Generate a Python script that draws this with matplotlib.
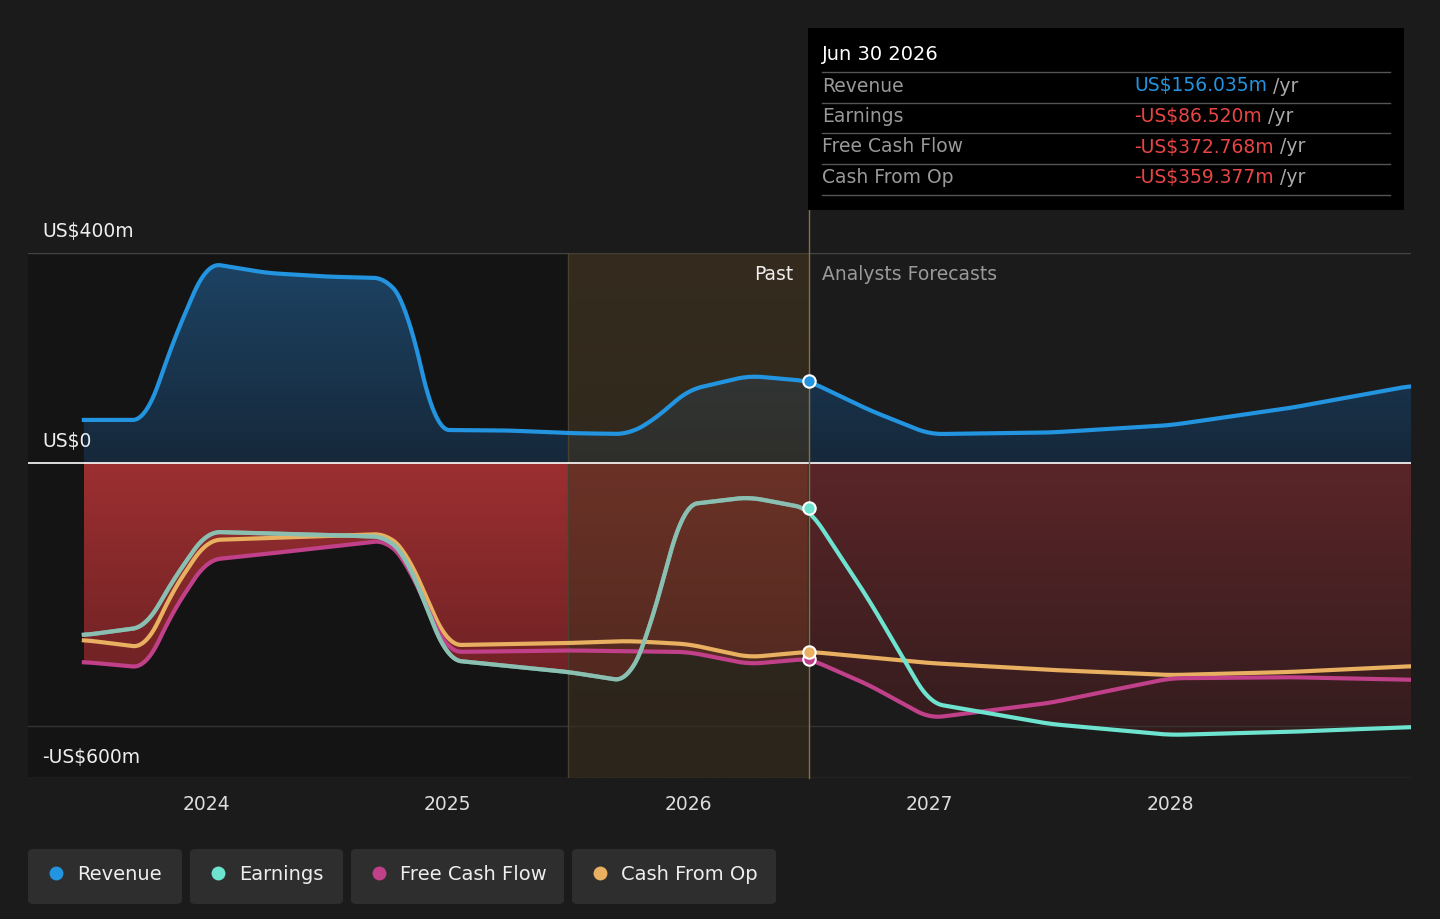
import numpy as np
import matplotlib.pyplot as plt
from matplotlib.patches import FancyBboxPatch, Rectangle
from matplotlib.colors import LinearSegmentedColormap

plt.rcParams['font.family'] = ['DejaVu Sans']

# data (US$ m)
rev_t = [2023.49, 2023.75, 2023.85, 2024.0, 2024.25, 2024.5, 2024.75, 2024.83, 2024.95, 2025.25, 2025.5, 2025.75, 2025.85, 2026.0, 2026.25, 2026.5, 2026.75, 2027.0, 2027.5, 2028.0, 2028.5, 2029.0]
rev_v = [82, 82, 220, 381, 362, 355, 352, 300, 63, 62, 57, 55, 80, 139, 166, 156, 101, 55, 58, 72, 105, 147]

earn_t = [2023.49, 2023.75, 2023.85, 2024.0, 2024.5, 2024.75, 2024.83, 2025.0, 2025.5, 2025.75, 2025.83, 2025.98, 2026.25, 2026.5, 2026.75, 2027.0, 2027.5, 2028.0, 2028.5, 2029.0]
earn_v = [-328, -312, -230, -131, -137, -141, -180, -375, -398, -416, -330, -80, -65, -86.5, -261, -457, -497, -518, -512, -503]

fcf_t = [2023.49, 2023.75, 2023.85, 2024.0, 2024.25, 2024.5, 2024.75, 2024.83, 2025.0, 2025.5, 2026.0, 2026.25, 2026.5, 2026.75, 2027.0, 2027.5, 2028.0, 2028.5, 2029.0]
fcf_v = [-379, -390, -290, -185, -173, -160, -147, -190, -360, -357, -360, -383, -372.8, -423, -486, -457, -410, -408, -413]

cfo_t = [2023.49, 2023.75, 2023.85, 2024.0, 2024.5, 2024.75, 2024.83, 2025.0, 2025.5, 2025.75, 2026.0, 2026.25, 2026.5, 2027.0, 2027.5, 2028.0, 2028.5, 2029.0]
cfo_v = [-337, -352, -250, -147, -139, -135, -170, -347, -343, -339, -345, -370, -359.4, -381, -394, -404, -398, -387]

years = [2024, 2025, 2026, 2027, 2028]
now = 2026.5
past_start = 2025.5

BG = '#1b1b1b'
C_REV, C_EARN, C_FCF, C_CFO = '#2394df', '#6ee3cf', '#c0408a', '#e8b060'
FS = 13.5

def smooth(t, v, n=1200, w=12):
    x = np.linspace(t[0], t[-1], n)
    y = np.interp(x, t, v)
    pad = np.pad(y, w, mode='edge')
    k = np.ones(2 * w + 1) / (2 * w + 1)
    return x, np.convolve(pad, k, mode='valid')

fig = plt.figure(figsize=(14.4, 9.19), dpi=100, facecolor=BG)
W, H = 1440, 919
ax = fig.add_axes([28 / W, 1 - 778 / H, (1411 - 28) / W, (778 - 253) / H])
ax.set_facecolor(BG)
x0 = 2023.258
ax.set_xlim(x0, 2029.0)
ax.set_ylim(-600, 400)
for s in ax.spines.values():
    s.set_visible(False)
ax.set_yticks([])
ax.set_xticks(years)
ax.set_xticklabels([str(y) for y in years], color='#dddddd', fontsize=FS)
ax.tick_params(axis='x', length=0, pad=12)

ax.axvspan(x0, past_start, color='#141414', zorder=0)

xr, yr = smooth(rev_t, rev_v)
xe, ye = smooth(earn_t, earn_v)
xf, yf = smooth(fcf_t, fcf_v)
xc, yc = smooth(cfo_t, cfo_v)
low = np.minimum(np.minimum(ye, yf), yc)

grad = np.linspace(0, 1, 256).reshape(-1, 1)
im = ax.imshow(grad, extent=[x0, 2029, 0, 400], origin='lower', aspect='auto',
               cmap=LinearSegmentedColormap.from_list('b', ['#16283a', '#1d4465']), zorder=1)
poly = ax.fill_between(xr, 0, yr, color='none')
im.set_clip_path(poly.get_paths()[0], transform=ax.transData)

for a, b, cols in [(2023.49, now, ['#5a1c1e', '#9c2f31']), (now, 2029, ['#2e1b1c', '#5a2528'])]:
    m = (xe >= a) & (xe <= b)
    im2 = ax.imshow(grad, extent=[a, b, -600, 0], origin='lower', aspect='auto',
                    cmap=LinearSegmentedColormap.from_list('r', cols), zorder=1)
    p = ax.fill_between(xe[m], low[m], 0, color='none')
    im2.set_clip_path(p.get_paths()[0], transform=ax.transData)

ax.imshow(grad, extent=[past_start, now, -600, 400], origin='lower', aspect='auto',
          cmap=LinearSegmentedColormap.from_list('g', ['#3a2e1c', '#4a3a22']),
          alpha=0.55, zorder=2)
ax.axvline(past_start, color='#4a4030', lw=1, zorder=2)
ax.axvline(now, color='#8a7040', lw=1, zorder=6, ymax=1.1, clip_on=False)

ax.axhline(400, color='#444444', lw=1, zorder=1)
ax.axhline(-500, color='#333333', lw=1, zorder=1)
ax.axhline(-600, color='#444444', lw=1, zorder=1)
ax.axhline(0, color='#ffffff', lw=1.2, zorder=3)

ax.plot(xc, yc, color=C_CFO, lw=3, zorder=4)
ax.plot(xf, yf, color=C_FCF, lw=3, zorder=4)
ax.plot(xe, ye, color=C_EARN, lw=3, zorder=4)
m = xe <= now
ax.plot(xe[m], ye[m], color='#a0a8a0', lw=3, zorder=4, alpha=0.6)
ax.plot(xr, yr, color=C_REV, lw=3, zorder=5)

for t, v, c in [(rev_t, rev_v, C_REV), (earn_t, earn_v, C_EARN), (fcf_t, fcf_v, C_FCF), (cfo_t, cfo_v, C_CFO)]:
    ax.scatter([now], [np.interp(now, t, v)], s=80, color=c, edgecolor='white', lw=1.5, zorder=7)

fig.text(42 / W, 1 - 232 / H, 'US$400m', color='#eeeeee', fontsize=FS, va='center')
fig.text(42 / W, 1 - 442 / H, 'US$0', color='#eeeeee', fontsize=FS, va='center')
fig.text(42 / W, 1 - 758 / H, '-US$600m', color='#eeeeee', fontsize=FS, va='center')
fig.text(793 / W, 1 - 274 / H, 'Past', color='#eeeeee', fontsize=FS, ha='right', va='center')
fig.text(822 / W, 1 - 274 / H, 'Analysts Forecasts', color='#999999', fontsize=FS, va='center')

# tooltip
fig.patches.append(Rectangle((808 / W, 1 - 210 / H), 596 / W, 182 / H, transform=fig.transFigure,
                             facecolor='black', edgecolor='none'))
fig.text(822 / W, 1 - 55 / H, 'Jun 30 2026', color='white', fontsize=14, va='center')
rows = [('Revenue', 'US$156.035m', C_REV), ('Earnings', '-US$86.520m', '#e84545'),
        ('Free Cash Flow', '-US$372.768m', '#e84545'), ('Cash From Op', '-US$359.377m', '#e84545')]
fig.canvas.draw()
r = fig.canvas.get_renderer()
for i, (lab, val, col) in enumerate(rows):
    y = 86 + i * 30.5
    fig.add_artist(plt.Line2D([822 / W, 1390 / W], [1 - (y - 14) / H] * 2, color='#555555', lw=1))
    fig.text(822 / W, 1 - y / H, lab, color='#999999', fontsize=FS, va='center')
    t = fig.text(1134 / W, 1 - y / H, val, color=col, fontsize=FS, va='center')
    x1 = t.get_window_extent(r).x1
    fig.text(x1 / W, 1 - y / H, ' /yr', color='#aaaaaa', fontsize=FS, va='center')
fig.add_artist(plt.Line2D([822 / W, 1390 / W], [1 - 195 / H] * 2, color='#555555', lw=1))

# legend
items = [('Revenue', C_REV, 28, 182), ('Earnings', C_EARN, 190, 343),
         ('Free Cash Flow', C_FCF, 351, 564), ('Cash From Op', C_CFO, 572, 776)]
for lab, col, a, b in items:
    fig.patches.append(FancyBboxPatch((a / W, 1 - 904 / H), (b - a) / W, 55 / H, transform=fig.transFigure,
                                      boxstyle='round,pad=0,rounding_size=0.004', facecolor='#2e2e2e', edgecolor='none'))
    fig.add_artist(plt.Line2D([(a + 28) / W], [1 - 873 / H], marker='o', ms=10, color=col, mec='none'))
    fig.text((a + 49) / W, 1 - 874 / H, lab, color='#eeeeee', fontsize=14, va='center')

fig.savefig('out.png', dpi=100, facecolor=BG)
